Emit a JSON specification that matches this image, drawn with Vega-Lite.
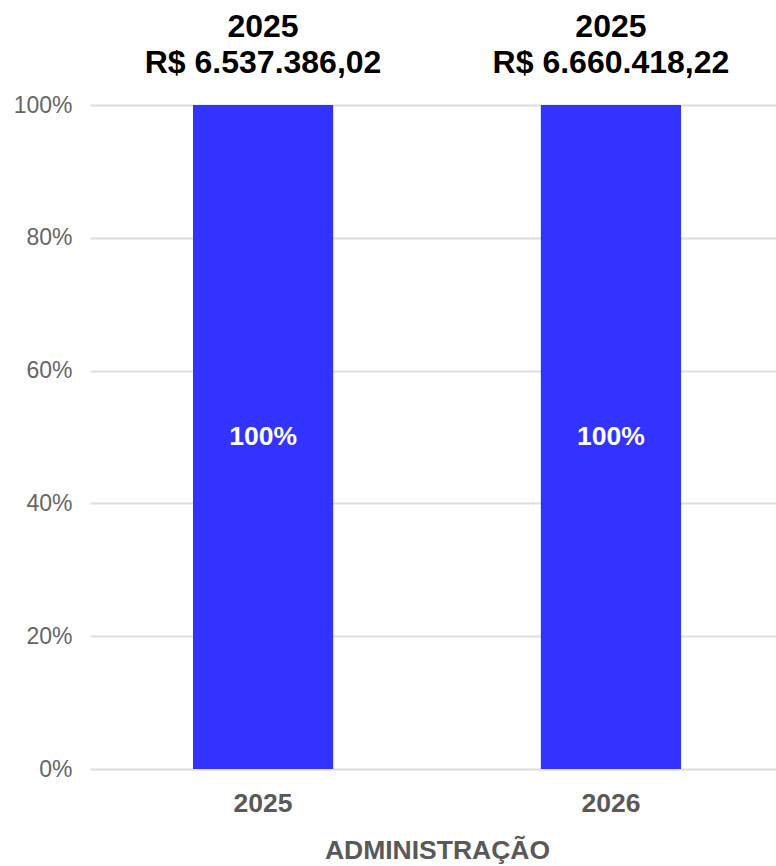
{
  "$schema": "https://vega.github.io/schema/vega-lite/v6.json",
  "width": 694,
  "height": 664,
  "autosize": "none",
  "padding": {"left": 90, "top": 105, "right": 0, "bottom": 97},
  "background": "white",
  "config": {
    "font": "Liberation Sans",
    "view": {"stroke": null}
  },
  "data": {
    "values": [
      {"exercicio": "2025", "percentual": 1, "ano_rotulo": "2025", "valor": "R$ 6.537.386,02"},
      {"exercicio": "2026", "percentual": 1, "ano_rotulo": "2025", "valor": "R$ 6.660.418,22"}
    ]
  },
  "encoding": {
    "x": {
      "field": "exercicio",
      "type": "nominal",
      "scale": {"paddingInner": 0.597, "paddingOuter": 0.296},
      "axis": {
        "title": "ADMINISTRAÇÃO",
        "titleFont": "Liberation Sans",
        "titleFontSize": 26.5,
        "titleFontWeight": "bold",
        "titleColor": "#595959",
        "titlePadding": 21,
        "labelAngle": 0,
        "labelFontSize": 26.5,
        "labelFontWeight": "bold",
        "labelColor": "#595959",
        "labelPadding": 21,
        "domain": false,
        "ticks": false,
        "grid": false
      }
    },
    "y": {
      "field": "percentual",
      "type": "quantitative",
      "scale": {"domain": [0, 1]},
      "axis": {
        "title": null,
        "format": ".0%",
        "values": [0, 0.2, 0.4, 0.6, 0.8, 1],
        "labelFontSize": 23,
        "labelColor": "#666666",
        "labelPadding": 18,
        "domain": false,
        "ticks": false,
        "grid": true,
        "gridColor": "#dddddd",
        "gridWidth": 2
      }
    }
  },
  "layer": [
    {"mark": {"type": "bar", "color": "#3333ff"}},
    {
      "mark": {"type": "text", "fontSize": 32, "fontWeight": "bold", "color": "#000000", "baseline": "alphabetic", "dy": -68},
      "encoding": {"text": {"field": "ano_rotulo"}}
    },
    {
      "mark": {"type": "text", "fontSize": 32, "fontWeight": "bold", "color": "#000000", "baseline": "alphabetic", "dy": -32},
      "encoding": {"text": {"field": "valor"}}
    },
    {
      "mark": {"type": "text", "fontSize": 26.5, "fontWeight": "bold", "color": "#ffffff", "baseline": "middle"},
      "encoding": {
        "y": {"datum": 0.5, "type": "quantitative"},
        "text": {"field": "percentual", "format": ".0%"}
      }
    }
  ]
}
